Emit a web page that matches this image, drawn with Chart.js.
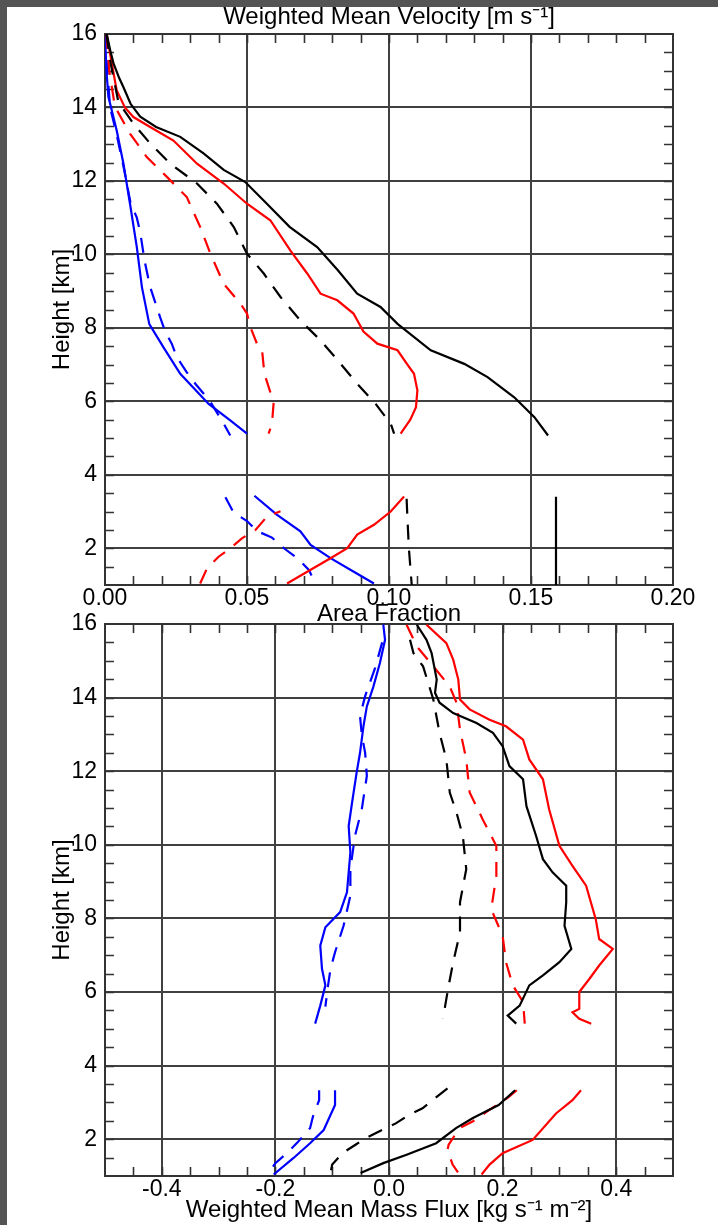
<!DOCTYPE html>
<html>
<head>
<meta charset="utf-8">
<script src="https://cdn.jsdelivr.net/npm/chart.js@4.4.1/dist/chart.umd.min.js"></script>
<style>
  body { margin: 0; background: #fff; width: 718px; height: 1225px; position: relative; overflow: hidden; }
  #stripTop { position: absolute; left: 0; top: 0; width: 718px; height: 7px; background: #545454; }
  #stripLeft { position: absolute; left: 0; top: 0; width: 7px; height: 1225px; background: #545454; }
  canvas { position: absolute; left: 0; }
  #velocity { top: 0; }
  #flux { top: 596px; }
</style>
</head>
<body>
<div id="stripTop"></div>
<div id="stripLeft"></div>
<canvas id="velocity" width="718" height="630"></canvas>
<canvas id="flux" width="718" height="629"></canvas>
<script>
// tick labels
const heightTicks = [2, 4, 6, 8, 10, 12, 14, 16];
const fractionTicks = [0, 0.05, 0.10, 0.15, 0.20];
const fluxTicks = [-0.4, -0.2, 0.0, 0.2, 0.4];

// top panel, [value, height km]
const velBlackSolid = [[0.0006,16],[0.002,15.5],[0.003,15.2],[0.005,14.8],[0.0065,14.55],[0.009,14.1],[0.0124,13.75],[0.018,13.47],[0.0265,13.2],[0.0347,12.75],[0.0418,12.3],[0.0494,11.97],[0.057,11.38],[0.065,10.75],[0.0747,10.2],[0.082,9.57],[0.0888,8.93],[0.097,8.57],[0.103,8.11],[0.1147,7.39],[0.1265,7.02],[0.1347,6.66],[0.1441,6.11],[0.1512,5.57],[0.156,5.07]];
const velBlackSolidLow = [[0.1588,3.4],[0.1588,1.0]];
const velBlackDash = [[0.0005,16],[0.002,15.2],[0.0047,14.15],[0.01,13.56],[0.0159,13.02],[0.023,12.47],[0.0324,11.93],[0.0394,11.38],[0.0453,10.75],[0.05,10.02],[0.0559,9.48],[0.0618,8.84],[0.0688,8.2],[0.0759,7.66],[0.083,7.02],[0.0888,6.48],[0.0953,5.93],[0.1006,5.39],[0.1018,5.12]];
const velBlackDashLow = [[0.1062,3.35],[0.1065,2.8],[0.107,2.0],[0.108,1.0]];
const velRedSolid = [[0.0006,16],[0.0015,15.6],[0.0024,15.2],[0.0041,14.47],[0.007,14.0],[0.01,13.74],[0.0159,13.47],[0.0241,13.1],[0.0324,12.47],[0.0418,11.93],[0.05,11.38],[0.0582,10.93],[0.0653,10.1],[0.0712,9.48],[0.0759,8.93],[0.0818,8.75],[0.0875,8.39],[0.091,7.9],[0.0959,7.57],[0.103,7.39],[0.1065,7.0],[0.1088,6.75],[0.11,6.3],[0.1095,5.84],[0.1075,5.5],[0.1041,5.12]];
const velRedSolidLow = [[0.0641,1.04],[0.0712,1.36],[0.0794,1.73],[0.0853,2.0],[0.0888,2.37],[0.0947,2.64],[0.1006,3.0],[0.1053,3.41]];
const velRedDash = [[0.0005,16],[0.0015,15.0],[0.0035,14.02],[0.0088,13.29],[0.0147,12.65],[0.0218,12.11],[0.0288,11.56],[0.0335,10.75],[0.0371,10.02],[0.0418,9.2],[0.0477,8.66],[0.05,8.39],[0.0512,8.02],[0.0535,7.57],[0.0553,7.39],[0.0559,6.93],[0.0565,6.66],[0.0582,6.25],[0.0594,5.98],[0.0588,5.39],[0.0576,5.12]];
const velRedDashLow = [[0.0335,1.04],[0.0359,1.45],[0.04,1.77],[0.0441,2.0],[0.0482,2.27],[0.053,2.5],[0.057,2.86],[0.0618,3.01]];
const velBlueSolid = [[0.0,16],[0.0005,15.0],[0.0012,14.29],[0.0041,13.38],[0.0065,12.47],[0.0088,11.38],[0.0112,10.2],[0.013,9.11],[0.0156,8.1],[0.0206,7.47],[0.0265,6.75],[0.0365,5.93],[0.0441,5.48],[0.05,5.12]];
const velBlueSolidLow = [[0.0526,3.43],[0.0606,2.91],[0.0688,2.46],[0.0724,2.09],[0.0794,1.73],[0.0876,1.36],[0.0947,1.04]];
const velBlueDash = [[0.0,16],[0.0008,15.0],[0.0018,14.0],[0.004,13.3],[0.0065,12.4],[0.009,11.4],[0.0112,11.0],[0.0124,10.6],[0.014,9.8],[0.0159,9.11],[0.0194,8.29],[0.0212,7.9],[0.0235,7.57],[0.0253,7.2],[0.0288,6.79],[0.0318,6.48],[0.037,6.0],[0.0418,5.39],[0.0441,5.07]];
const velBlueDashLow = [[0.0424,3.39],[0.0453,2.97],[0.05,2.74],[0.0535,2.47],[0.0588,2.29],[0.063,2.0],[0.0677,1.73],[0.0718,1.41],[0.0741,1.04]];

// bottom panel, [mass flux, height km]
const fluxBlackSolid = [[0.049,15.98],[0.066,15.57],[0.075,15.21],[0.084,14.49],[0.081,14.13],[0.089,13.86],[0.113,13.58],[0.154,13.31],[0.183,13.04],[0.2,12.68],[0.212,12.14],[0.236,11.78],[0.242,11.05],[0.259,10.24],[0.271,9.61],[0.288,9.25],[0.312,8.89],[0.312,8.44],[0.309,7.8],[0.321,7.17],[0.3,6.81],[0.271,6.45],[0.247,6.18],[0.23,5.63],[0.209,5.36],[0.224,5.14]];
const fluxBlackSolidLow = [[0.222,3.33],[0.193,2.93],[0.147,2.57],[0.118,2.3],[0.083,1.89],[0.031,1.58],[-0.01,1.35],[-0.05,1.08]];
const fluxBlackDash = [[0.037,15.57],[0.043,15.21],[0.06,14.85],[0.078,13.95],[0.089,13.04],[0.101,12.32],[0.107,11.42],[0.119,10.87],[0.13,10.24],[0.136,9.34],[0.125,8.44],[0.125,7.62],[0.113,6.81],[0.104,6.09],[0.095,5.27]];
const fluxBlackDashLow = [[0.103,3.38],[0.08,3.1],[0.059,2.84],[0.035,2.66],[0.012,2.43],[-0.012,2.25],[-0.041,2.03],[-0.059,1.85],[-0.082,1.62],[-0.1,1.31],[-0.103,1.08]];
const fluxRedSolid = [[0.066,15.98],[0.101,15.48],[0.113,15.03],[0.122,14.49],[0.125,13.95],[0.142,13.68],[0.177,13.4],[0.206,13.22],[0.236,12.86],[0.247,12.32],[0.271,11.78],[0.282,10.96],[0.3,9.97],[0.323,9.43],[0.347,8.89],[0.364,7.98],[0.37,7.44],[0.394,7.17],[0.37,6.72],[0.353,6.36],[0.335,6.0],[0.335,5.54],[0.323,5.45],[0.335,5.27],[0.356,5.14]];
const fluxRedSolidLow = [[0.338,3.33],[0.323,3.06],[0.294,2.7],[0.253,1.98],[0.2,1.62],[0.177,1.31],[0.163,1.04]];
const fluxRedDash = [[0.031,15.98],[0.049,15.39],[0.078,14.85],[0.107,14.3],[0.119,13.86],[0.125,13.13],[0.136,12.32],[0.142,11.42],[0.165,10.69],[0.189,9.97],[0.189,9.16],[0.18,8.25],[0.2,7.53],[0.206,6.81],[0.218,6.18],[0.236,5.73],[0.239,5.14]];
const fluxRedDashLow = [[0.225,3.33],[0.211,3.15],[0.19,2.93],[0.176,2.79],[0.147,2.48],[0.124,2.3],[0.105,1.85],[0.103,1.71],[0.112,1.31],[0.124,1.04]];
const fluxBlueSolid = [[-0.01,15.98],[-0.007,15.57],[-0.016,14.94],[-0.0275,14.3],[-0.039,13.76],[-0.045,13.22],[-0.051,12.5],[-0.057,11.96],[-0.065,11.15],[-0.071,10.51],[-0.068,9.79],[-0.071,9.25],[-0.074,8.71],[-0.086,8.17],[-0.112,7.76],[-0.121,7.26],[-0.118,6.63],[-0.112,6.18],[-0.121,5.63],[-0.13,5.14]];
const fluxBlueSolidLow = [[-0.095,3.33],[-0.095,2.93],[-0.115,2.25],[-0.139,1.89],[-0.168,1.49],[-0.203,1.04]];
const fluxBlueDash = [[-0.012,15.5],[-0.0246,14.8],[-0.042,14.04],[-0.051,13.5],[-0.048,13.0],[-0.042,12.5],[-0.039,11.87],[-0.048,10.96],[-0.06,10.24],[-0.068,9.34],[-0.068,8.62],[-0.08,7.8],[-0.095,7.08],[-0.103,6.63],[-0.108,6.1],[-0.112,5.6]];
const fluxBlueDashLow = [[-0.123,3.33],[-0.123,3.06],[-0.134,2.61],[-0.139,2.3],[-0.16,1.93],[-0.177,1.66],[-0.2,1.35],[-0.212,1.08]];

Chart.defaults.font.family = '"Liberation Sans", Arial, sans-serif';
Chart.defaults.color = '#000';

function line(points, color, dashed) {
  return {
    data: points.map(p => ({ x: p[0], y: p[1] })),
    borderColor: color,
    borderWidth: 2.2,
    borderDash: dashed ? [15, 11] : [],
    pointRadius: 0,
    showLine: true,
    fill: false,
    tension: 0
  };
}

// IDL style: frame and minor ticks pointing inward on all four sides
const insideTicks = {
  id: 'insideTicks',
  beforeDatasetsDraw(chart, args, opts) {
    const { ctx, chartArea: a, scales: { x, y } } = chart;
    ctx.save();
    ctx.strokeStyle = '#333';
    ctx.lineWidth = 1.6;
    ctx.beginPath();
    for (let v = x.min + opts.xStep; v < x.max - 1e-9; v += opts.xStep) {
      const px = Math.round(x.getPixelForValue(v)) + 0.5;
      ctx.moveTo(px, a.bottom); ctx.lineTo(px, a.bottom - 9);
      ctx.moveTo(px, a.top); ctx.lineTo(px, a.top + 9);
    }
    for (let v = y.min + opts.yStep; v < y.max - 1e-9; v += opts.yStep) {
      const py = Math.round(y.getPixelForValue(v)) + 0.5;
      ctx.moveTo(a.left, py); ctx.lineTo(a.left + 9, py);
      ctx.moveTo(a.right, py); ctx.lineTo(a.right - 9, py);
    }
    ctx.stroke();
    ctx.lineWidth = 2;
    ctx.strokeRect(a.left, a.top, a.right - a.left, a.bottom - a.top);
    ctx.restore();
  }
};

function heightAxis() {
  return {
    type: 'linear', min: 1, max: 16,
    afterFit: s => { s.width = 105; },
    afterBuildTicks: s => { s.ticks = heightTicks.map(v => ({ value: v })); },
    ticks: { padding: 8, font: { size: 23 }, color: '#000' },
    grid: { color: '#404040', lineWidth: 2, drawTicks: false },
    border: { display: false },
    title: { display: true, text: 'Height [km]', font: { size: 24 }, color: '#000', padding: { top: 48, bottom: 0 } }
  };
}

new Chart(document.getElementById('velocity'), {
  type: 'scatter',
  data: {
    datasets: [
      line(velBlackSolid, '#000', false), line(velBlackSolidLow, '#000', false),
      line(velBlackDash, '#000', true), line(velBlackDashLow, '#000', true),
      line(velRedSolid, '#ff0000', false), line(velRedSolidLow, '#ff0000', false),
      line(velRedDash, '#ff0000', true), line(velRedDashLow, '#ff0000', true),
      line(velBlueSolid, '#0000ff', false), line(velBlueSolidLow, '#0000ff', false),
      line(velBlueDash, '#0000ff', true), line(velBlueDashLow, '#0000ff', true)
    ]
  },
  options: {
    responsive: false,
    animation: false,
    layout: { padding: { left: 0, right: 45, top: 0, bottom: 0 } },
    plugins: {
      legend: { display: false },
      tooltip: { enabled: false },
      title: { display: true, fullSize: false, text: 'Weighted Mean Velocity [m s\u207B\u00B9]', font: { size: 24, weight: 'normal' }, color: '#000', padding: { top: 3, bottom: 2.2 } },
      insideTicks: { xStep: 0.01, yStep: 0.5 }
    },
    scales: {
      x: {
        type: 'linear', min: 0, max: 0.2,
        afterFit: s => { s.height = 45; },
        afterBuildTicks: s => { s.ticks = fractionTicks.map(v => ({ value: v })); },
        ticks: { callback: v => v.toFixed(2), padding: 2, maxRotation: 0, autoSkip: false, font: { size: 23, lineHeight: 1 }, color: '#000' },
        grid: { color: '#404040', lineWidth: 2, drawTicks: false },
        border: { display: false },
        title: { display: true, text: 'Area Fraction', font: { size: 24 }, color: '#000', padding: { top: 0, bottom: 1 } }
      },
      y: heightAxis()
    }
  },
  plugins: [insideTicks]
});

new Chart(document.getElementById('flux'), {
  type: 'scatter',
  data: {
    datasets: [
      line(fluxBlackSolid, '#000', false), line(fluxBlackSolidLow, '#000', false),
      line(fluxBlackDash, '#000', true), line(fluxBlackDashLow, '#000', true),
      line(fluxRedSolid, '#ff0000', false), line(fluxRedSolidLow, '#ff0000', false),
      line(fluxRedDash, '#ff0000', true), line(fluxRedDashLow, '#ff0000', true),
      line(fluxBlueSolid, '#0000ff', false), line(fluxBlueSolidLow, '#0000ff', false),
      line(fluxBlueDash, '#0000ff', true), line(fluxBlueDashLow, '#0000ff', true)
    ]
  },
  options: {
    responsive: false,
    animation: false,
    layout: { padding: { left: 0, right: 45, top: 28, bottom: 0 } },
    plugins: {
      legend: { display: false },
      tooltip: { enabled: false },
      insideTicks: { xStep: 0.05, yStep: 0.5 }
    },
    scales: {
      x: {
        type: 'linear', min: -0.5, max: 0.5,
        afterFit: s => { s.height = 49; },
        afterBuildTicks: s => { s.ticks = fluxTicks.map(v => ({ value: v })); },
        ticks: { callback: v => v.toFixed(1), padding: 2, maxRotation: 0, autoSkip: false, font: { size: 23, lineHeight: 1 }, color: '#000' },
        grid: { color: '#404040', lineWidth: 2, drawTicks: false },
        border: { display: false },
        title: { display: true, text: 'Weighted Mean Mass Flux [kg s\u207B\u00B9 m\u207B\u00B2]', font: { size: 24 }, color: '#000', padding: { top: 0, bottom: 0.6 } }
      },
      y: heightAxis()
    }
  },
  plugins: [insideTicks]
});
</script>
</body>
</html>
